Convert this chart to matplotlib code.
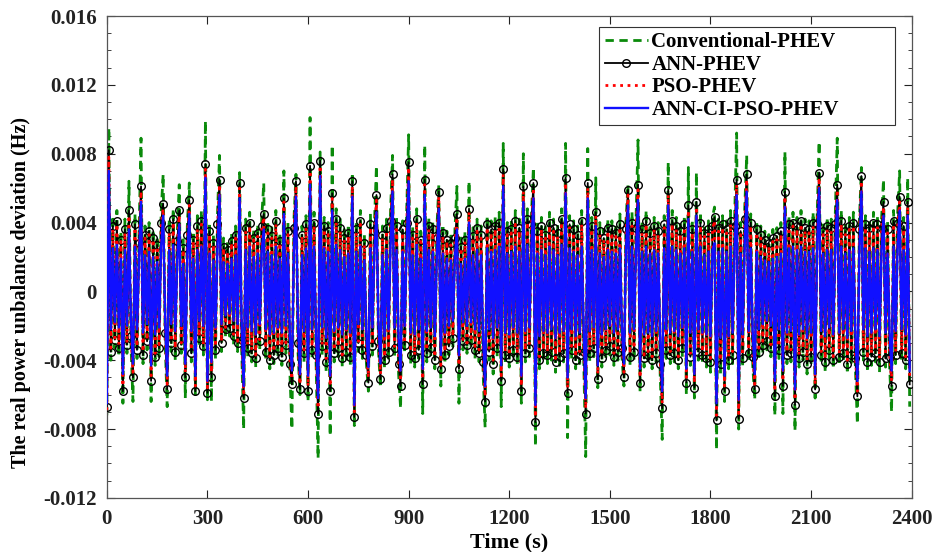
import numpy as np
import matplotlib
matplotlib.use("Agg")
import matplotlib.pyplot as plt
from matplotlib.ticker import MultipleLocator, FuncFormatter

# values in units of 1e-4 Hz, one sample every 6 s
step_s = 6
conventional_phev = [
    -72, 95, -40, 44, -33, 47, -38, 35, -65, 42, -36, 64, -31, -64, 45, -39, 33, 89, -42, 38,
    -34, 40, -64, 36, -43, 32, -38, 46, 68, -29, -67, 42, -35, 48, -40, 34, 62, -36, 30, -62,
    38, 63, -41, 35, -60, 44, -32, 47, -37, 99, -63, 40, -64, 33, -39, 45, 79, -35, 31, -27,
    29, -26, 34, -31, 38, -35, 69, -33, -80, 42, -38, 46, -41, 36, -44, 39, -34, 43, 63, -40,
    41, -45, 37, -42, 47, -38, 34, -43, 70, -36, 40, -48, -80, 42, 68, -35, -60, 38, -41, 44,
    -64, 101, -39, 46, -42, -97, 81, -37, 43, -47, 40, -84, 85, -41, 48, -38, 42, -44, 36, -40,
    39, -43, 69, -78, 41, -35, 47, -39, 33, -42, -58, 45, -37, 40, 73, -34, -56, 38, -45, 42,
    -40, 47, 79, -38, 43, -48, -68, 41, -36, 46, 91, -42, 38, -44, 48, -39, 35, -71, 85, -41,
    43, -38, 41, -45, 36, 62, -55, 39, -42, 35, -37, 33, -32, 36, 61, -65, 31, -34, 35, -36,
    64, -33, 37, -39, 42, -41, 38, -47, -79, 44, -40, 41, -48, 43, -38, 46, -67, 86, -42, 40,
    -44, 41, -39, 47, -43, 42, -65, 80, -41, 48, -38, 44, 72, -90, 40, -45, 43, -41, 38, -42,
    46, -40, 42, -47, 39, -43, 48, -41, 86, -85, 44, -39, 41, -45, 38, -42, 47, -40, -96, 83,
    -41, 43, -38, 66, -56, 40, -44, 36, -39, 42, -37, 41, -43, 39, -40, 45, -38, -55, 41, 62,
    -43, 46, -40, 42, 88, -58, 41, -44, 47, -42, 39, -45, 43, -41, 40, -48, -86, 44, -39, 75,
    -42, 47, -41, 43, -45, 40, -38, 44, -60, 72, -43, 41, -62, 69, -40, 46, -42, 39, -44, 41,
    -47, 43, 49, -92, 42, -48, 44, -64, 41, -45, 47, -42, 43, 92, -80, 40, -44, 48, 79, -41,
    45, -43, -63, 41, -40, 38, -36, 35, -34, 33, -38, 36, -72, 37, -39, 40, -71, 81, -42, 44,
    -41, 46, -81, 43, -44, 47, -40, 42, -48, 41, -43, 46, -62, 44, 87, -42, 40, -47, 43, -39,
    42, -45, 44, 89, -43, 47, -41, 40, -48, 43, -42, 46, -44, -77, 41, 72, -40, 44, -47, 42,
    -43, 46, -41, 44, -47, 42, 65, -44, 41, -43, -70, 47, -42, 45, 70, -41, 43, -45, 66, -67,
]
ann_phev = [
    -67, 82, -35, 38, -28, 41, -33, 30, -58, 36, -31, 47, -26, -50, 39, -34, 28, 61, -37, 33,
    -29, 35, -52, 31, -38, 27, -33, 40, 51, -24, -57, 36, -30, 42, -35, 29, 47, -31, 25, -50,
    33, 53, -36, 30, -58, 38, -27, 41, -32, 74, -59, 35, -50, 28, -34, 39, 65, -30, 26, -22,
    24, -21, 29, -26, 33, -30, 63, -28, -62, 37, -33, 40, -36, 31, -39, 34, -29, 38, 45, -35,
    36, -40, 32, -37, 41, -33, 29, -38, 54, -31, 35, -42, -54, 37, 64, -30, -57, 33, -36, 39,
    -58, 73, -34, 40, -37, -71, 76, -32, 38, -41, 35, -58, 57, -36, 42, -33, 37, -39, 31, -35,
    34, -38, 64, -73, 36, -30, 41, -34, 28, -37, -53, 39, -32, 35, 56, -29, -51, 33, -40, 37,
    -35, 41, 68, -33, 38, -42, -55, 36, -31, 40, 75, -37, 33, -39, 42, -34, 30, -54, 65, -36,
    38, -33, 36, -40, 31, 58, -45, 34, -37, 30, -32, 28, -27, 31, 45, -45, 26, -29, 30, -31,
    48, -28, 32, -34, 37, -36, 33, -41, -64, 39, -35, 36, -42, 38, -33, 40, -52, 71, -37, 35,
    -39, 36, -34, 41, -38, 37, -58, 61, -36, 42, -33, 39, 63, -76, 35, -40, 38, -36, 33, -37,
    40, -35, 37, -41, 34, -38, 42, -36, 66, -59, 39, -34, 36, -40, 33, -37, 41, -35, -71, 63,
    -36, 38, -33, 46, -51, 35, -39, 31, -34, 37, -32, 36, -38, 34, -35, 39, -33, -50, 36, 59,
    -38, 40, -35, 37, 62, -53, 36, -39, 41, -37, 34, -40, 38, -36, 35, -42, -68, 39, -34, 59,
    -37, 41, -36, 38, -40, 35, -33, 39, -53, 50, -38, 36, -56, 52, -35, 40, -37, 34, -39, 36,
    -41, 38, 43, -75, 37, -42, 39, -58, 36, -40, 41, -37, 38, 65, -74, 35, -39, 42, 68, -36,
    40, -38, -57, 36, -35, 33, -31, 30, -29, 28, -33, 31, -61, 32, -34, 35, -55, 58, -37, 39,
    -36, 40, -66, 38, -39, 41, -35, 37, -42, 36, -38, 40, -57, 39, 69, -37, 35, -41, 38, -34,
    37, -40, 39, 62, -38, 41, -36, 35, -42, 38, -37, 40, -39, -61, 36, 67, -35, 39, -41, 37,
    -38, 40, -36, 39, -41, 37, 52, -39, 36, -38, -55, 41, -37, 40, 55, -36, 38, -40, 52, -54,
]
pso_phev = [
    -69, 78, -33, 36, -27, 39, -31, 29, -55, 34, -30, 44, -25, -47, 37, -32, 27, 58, -35, 31,
    -28, 33, -49, 30, -36, 26, -31, 38, 48, -23, -54, 34, -29, 40, -33, 28, 44, -30, 24, -47,
    31, 50, -34, 29, -55, 36, -26, 39, -31, 71, -56, 33, -47, 27, -32, 37, 62, -29, 25, -21,
    23, -20, 28, -25, 31, -29, 60, -27, -59, 35, -31, 38, -34, 30, -37, 32, -28, 36, 43, -33,
    34, -38, 31, -35, 39, -32, 28, -36, 52, -30, 33, -40, -51, 35, 61, -29, -54, 32, -34, 37,
    -55, 70, -32, 38, -35, -68, 73, -31, 36, -39, 33, -55, 54, -34, 40, -32, 35, -37, 30, -33,
    32, -36, 61, -70, 34, -29, 39, -32, 27, -35, -50, 37, -31, 33, 53, -28, -48, 31, -38, 35,
    -33, 39, 65, -32, 36, -40, -52, 34, -30, 38, 72, -35, 31, -37, 40, -32, 29, -51, 62, -34,
    36, -31, 34, -38, 30, 55, -43, 32, -35, 29, -31, 27, -26, 30, 43, -43, 25, -28, 29, -30,
    46, -27, 31, -32, 35, -34, 31, -39, -61, 37, -33, 34, -40, 36, -31, 38, -49, 68, -35, 33,
    -37, 34, -32, 39, -36, 35, -55, 58, -34, 40, -31, 37, 60, -73, 33, -38, 36, -34, 31, -35,
    38, -33, 35, -39, 32, -36, 40, -34, 63, -56, 37, -32, 34, -38, 31, -35, 39, -33, -68, 60,
    -34, 36, -31, 44, -48, 33, -37, 30, -32, 35, -30, 34, -36, 32, -33, 37, -31, -47, 34, 56,
    -36, 38, -33, 35, 59, -50, 34, -37, 39, -35, 32, -38, 36, -34, 33, -40, -65, 37, -32, 56,
    -35, 39, -34, 36, -38, 33, -31, 37, -50, 47, -36, 34, -53, 49, -33, 38, -35, 32, -37, 34,
    -39, 36, 41, -72, 35, -40, 37, -55, 34, -38, 39, -35, 36, 62, -71, 33, -37, 40, 65, -34,
    38, -36, -54, 34, -33, 31, -29, 28, -27, 26, -31, 29, -58, 30, -32, 33, -52, 55, -35, 37,
    -34, 38, -63, 36, -37, 39, -33, 35, -40, 34, -36, 38, -54, 37, 66, -35, 33, -39, 36, -32,
    35, -38, 37, 59, -36, 39, -34, 33, -40, 36, -35, 38, -37, -58, 34, 64, -33, 37, -39, 35,
    -36, 38, -34, 37, -39, 35, 49, -37, 34, -36, -52, 39, -35, 38, 52, -34, 36, -38, 49, -51,
]
ann_ci_pso_phev = [
    -65, 70, -22, 25, -18, 27, -21, 19, -48, 24, -20, 36, -17, -42, 26, -22, 18, 52, -24, 21,
    -19, 23, -43, 20, -25, 17, -21, 26, 44, -16, -49, 24, -19, 27, -23, 18, 39, -20, 16, -42,
    21, 45, -23, 19, -49, 24, -17, 26, -20, 66, -52, 22, -41, 18, -21, 25, 56, -19, 17, -14,
    16, -13, 19, -17, 21, -19, 54, -18, -55, 24, -21, 26, -23, 20, -25, 22, -19, 24, 36, -22,
    23, -25, 21, -24, 26, -21, 19, -24, 45, -20, 22, -27, -46, 24, 55, -19, -48, 21, -23, 25,
    -49, 62, -22, 26, -24, -62, 67, -21, 25, -27, 23, -49, 47, -23, 27, -21, 24, -25, 20, -22,
    22, -24, 55, -66, 23, -19, 26, -22, 18, -24, -44, 25, -21, 23, 46, -19, -42, 21, -26, 24,
    -22, 26, 58, -21, 24, -27, -46, 23, -20, 26, 64, -24, 21, -25, 27, -22, 19, -45, 56, -23,
    24, -21, 23, -26, 20, 48, -37, 22, -24, 19, -20, 18, -17, 20, 36, -37, 16, -18, 19, -20,
    40, -18, 21, -22, 24, -23, 21, -26, -55, 25, -22, 23, -27, 24, -21, 26, -43, 61, -24, 22,
    -25, 23, -21, 26, -24, 23, -49, 52, -23, 27, -21, 25, 54, -66, 22, -26, 24, -23, 21, -24,
    26, -22, 24, -27, 21, -24, 27, -23, 57, -50, 25, -22, 23, -26, 21, -24, 26, -22, -62, 54,
    -23, 24, -21, 38, -43, 22, -25, 20, -22, 24, -20, 23, -24, 22, -22, 25, -21, -42, 23, 50,
    -24, 26, -22, 24, 53, -45, 23, -25, 26, -24, 22, -26, 24, -23, 22, -27, -58, 25, -22, 50,
    -24, 26, -23, 24, -26, 22, -21, 25, -45, 42, -24, 23, -48, 44, -22, 26, -24, 21, -25, 23,
    -26, 24, 28, -65, 23, -27, 25, -49, 23, -26, 26, -24, 24, 56, -63, 22, -25, 27, 58, -23,
    25, -24, -48, 23, -22, 20, -19, 18, -17, 17, -20, 19, -52, 20, -22, 22, -46, 49, -24, 25,
    -23, 26, -57, 24, -25, 26, -22, 23, -27, 23, -24, 25, -48, 25, 60, -23, 22, -26, 24, -21,
    24, -25, 25, 53, -24, 26, -22, 22, -27, 24, -23, 25, -24, -52, 23, 58, -22, 25, -26, 23,
    -24, 25, -22, 24, -26, 23, 44, -24, 22, -23, -46, 26, -23, 25, 47, -22, 24, -25, 44, -46,
]
labels = ["Conventional-PHEV", "ANN-PHEV", "PSO-PHEV", "ANN-CI-PSO-PHEV"]
x_ticks = [0, 300, 600, 900, 1200, 1500, 1800, 2100, 2400]
y_ticks = [-0.012, -0.008, -0.004, 0, 0.004, 0.008, 0.012, 0.016]

scale = 1e-4
t = np.arange(len(ann_phev)) * step_s

plt.rcParams['font.family'] = ['Liberation Serif', 'DejaVu Serif']
plt.rcParams['font.weight'] = 'bold'

fig = plt.figure(figsize=(9.37, 5.52), dpi=100)
ax = fig.add_axes([0.114, 0.098, 0.859, 0.873])

ax.plot(t, np.array(conventional_phev) * scale, color='#0a8a0a', lw=2.0,
        linestyle=(0, (3.0, 2.0)), label=labels[0], zorder=2)
ax.plot(t, np.array(ann_phev) * scale, color='black', lw=1.3, marker='o',
        markersize=5.5, markerfacecolor='none', markeredgewidth=1.0,
        label=labels[1], zorder=3)
ax.plot(t, np.array(pso_phev) * scale, color='red', lw=2.0, linestyle=':',
        label=labels[2], zorder=4)
ax.plot(t, np.array(ann_ci_pso_phev) * scale, color='#1010ff', lw=1.7,
        label=labels[3], zorder=5)

ax.set_xlim(0, 2400)
ax.set_ylim(-0.012, 0.016)
ax.set_xticks(x_ticks)
ax.set_yticks(y_ticks)
ax.yaxis.set_minor_locator(MultipleLocator(0.001))
ax.yaxis.set_major_formatter(FuncFormatter(lambda v, p: '0' if abs(v) < 1e-12 else f'{v:.3f}'))
ax.tick_params(which='both', direction='in', top=True, right=True, labelsize=15, colors='#222222')
ax.tick_params(axis='x', which='major', pad=8)
ax.tick_params(axis='y', which='major', pad=7)
ax.tick_params(which='major', length=6)
ax.tick_params(which='minor', length=3)
for lab in ax.get_xticklabels() + ax.get_yticklabels():
    lab.set_fontweight('bold')
for s in ax.spines.values():
    s.set_color('#555555')
    s.set_linewidth(0.9)

ax.set_xlabel('Time (s)', fontsize=16, fontweight='bold')
ax.xaxis.set_label_coords(0.5, -0.072)
ax.set_ylabel('The real power unbalance deviation (Hz)', fontsize=14.5, fontweight='bold')
ax.yaxis.set_label_coords(-0.094, 0.427)

leg = ax.legend(loc='upper left', bbox_to_anchor=(0.612, 0.774, 0.367, 0.203), mode='expand',
                prop={'weight': 'bold', 'size': 15}, frameon=True, fancybox=False,
                edgecolor='#333333', framealpha=1, handlelength=2.1, borderpad=0.25,
                labelspacing=0.12, handletextpad=0.15, borderaxespad=0)
leg.get_frame().set_linewidth(0.8)

fig.savefig('out.png', dpi=100)
